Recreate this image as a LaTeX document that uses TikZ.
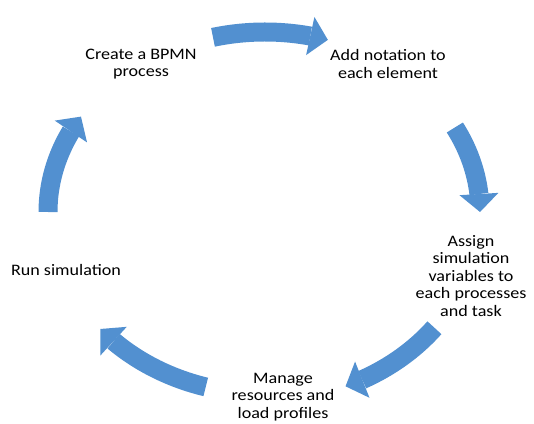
\documentclass[tikz,border=0pt]{standalone}
\usepackage{fontspec}
\setmainfont{Carlito}[FakeStretch=1.13]
\usetikzlibrary{arrows.meta, bending}
\definecolor{cycleblue}{RGB}{82,144,208}

\begin{document}
\begin{tikzpicture}[
    x=1pt, y=1pt,
    % Styles
    stage/.style={align=center, font=\fontsize{16}{17.5}\selectfont, inner sep=0pt},
    cycle arrow/.style={draw=cycleblue, line width=19pt,
        -{Triangle[length=18pt, width=39pt, line width=0pt, flex]}}
    ]
    \useasboundingbox (0,0) rectangle (534,423);

    % centre of the cycle
    \coordinate (hub) at (265,211);

    % 1. Stages of the simulation cycle
    \node (create) [stage] at (141,359) {Create a BPMN\\process};
    \node (notation) [stage] at (388,359) {Add notation to\\each element};
    \node (assign) [stage] at (471,147) {Assign\\simulation\\variables to\\each processes\\and task};
    \node (manage) [stage] at (283,26) {Manage\\resources and\\load profiles};
    \node (run) [stage] at (66,153) {Run simulation};

    % 2. Curved arrows between the stages
    \draw[cycle arrow] ([shift={(104:215 and 180)}]hub) arc[start angle=104, end angle=73, x radius=215, y radius=180];
    \draw[cycle arrow] ([shift={(28:215 and 180)}]hub) arc[start angle=28, end angle=0, x radius=215, y radius=180];
    \draw[cycle arrow] ([shift={(-38:215 and 188)}]hub) arc[start angle=-38, end angle=-68, x radius=215, y radius=188];
    \draw[cycle arrow] ([shift={(-106:215 and 182)}]hub) arc[start angle=-106, end angle=-140, x radius=215, y radius=182];
    \draw[cycle arrow] ([shift={(180:217 and 180)}]hub) arc[start angle=180, end angle=148, x radius=217, y radius=180];
\end{tikzpicture}
\end{document}
